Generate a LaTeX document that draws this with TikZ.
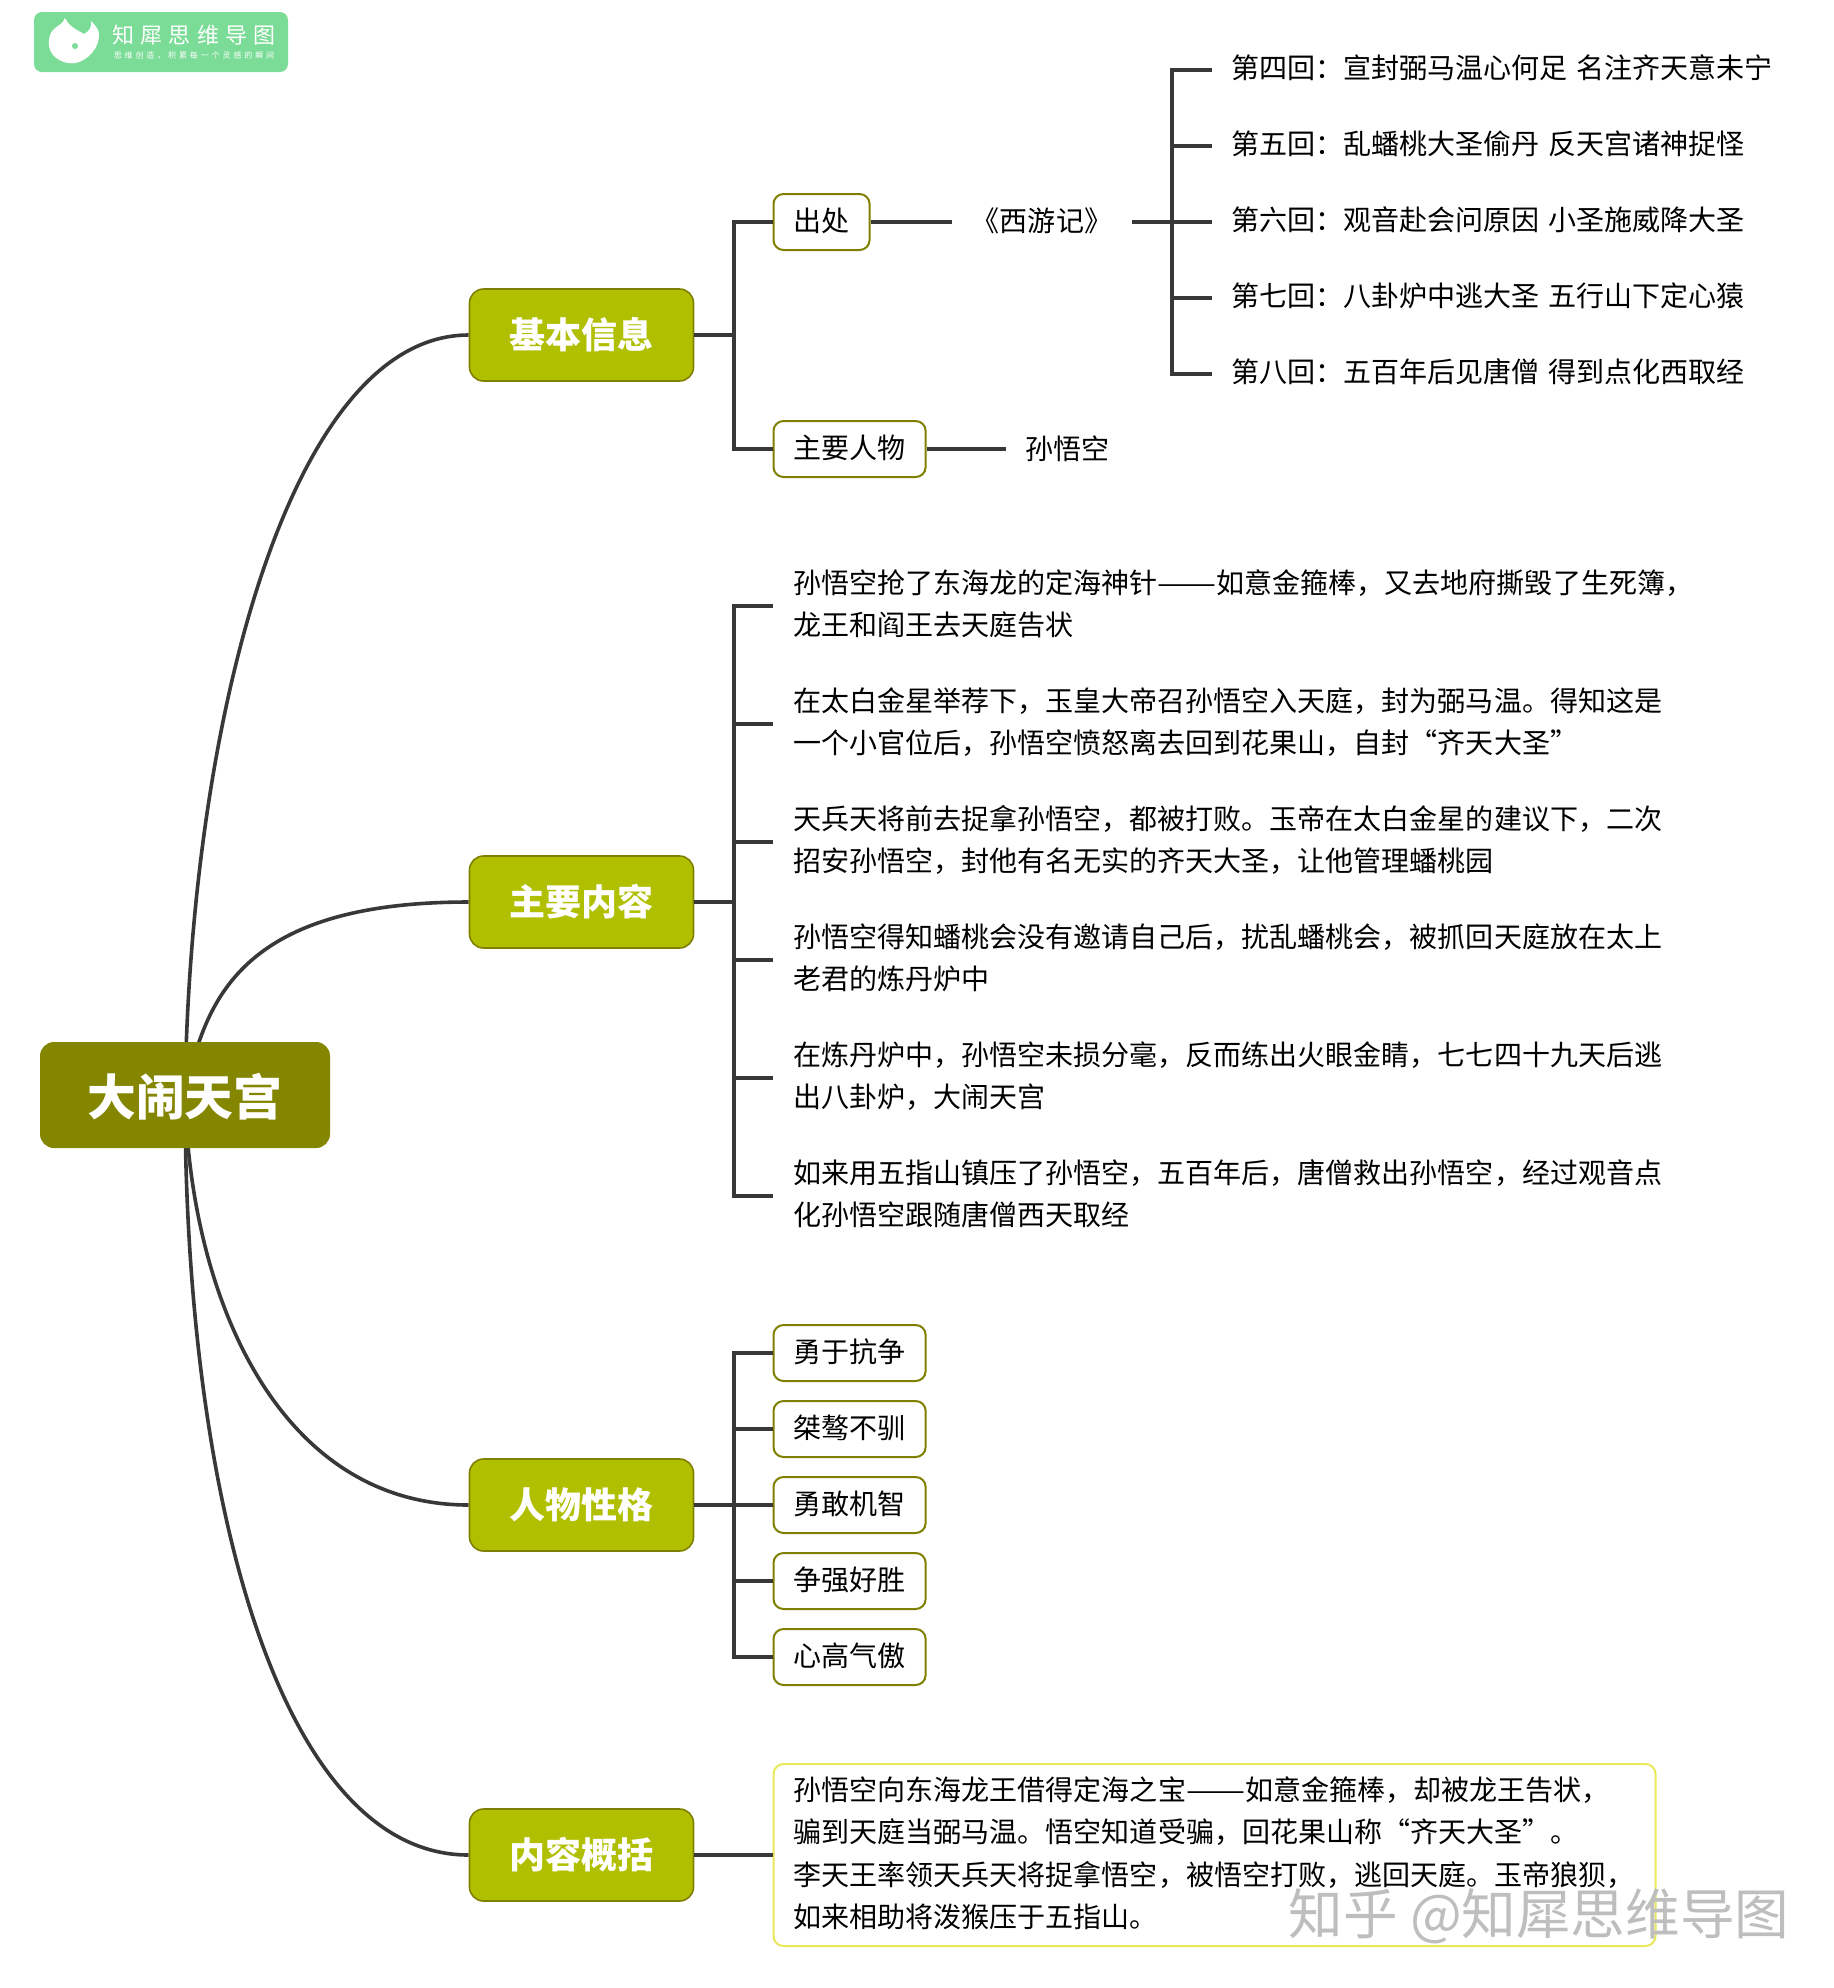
\documentclass[tikz,border=0pt]{standalone}
\usepackage{graphicx}
\usepackage{fontspec}
\setmainfont{Noto Sans CJK SC}
\usetikzlibrary{backgrounds}
\definecolor{leafOlive}{HTML}{808000}
\definecolor{rootOlive}{HTML}{848600}
\definecolor{branchGreen}{HTML}{B0BF00}
\definecolor{lineDark}{HTML}{383838}
\definecolor{logoGreen}{HTML}{7BDC97}
\definecolor{noteYellow}{HTML}{E8E85A}
\definecolor{markGray}{HTML}{BEBEBE}
\newcommand{\longdash}{\resizebox{29.5pt}{\height}{——}}
\newcommand{\midgap}{\hspace{4.5pt}}
\tikzset{
  rootbox/.style={fill=rootOlive, text=white, rounded corners=7pt, minimum width=145pt, minimum height=53pt, inner sep=0pt, text height=22pt, text depth=2pt, font=\fontsize{24.4}{28}\selectfont\bfseries},
  branchbox/.style={draw=leafOlive, line width=0.8pt, fill=branchGreen, text=white, rounded corners=7pt, minimum width=112pt, minimum height=46pt, inner sep=0pt, font=\fontsize{18}{22}\selectfont\bfseries},
  leafbox/.style={draw=leafOlive, line width=1pt, fill=white, rounded corners=5pt, minimum height=28pt, inner xsep=10pt, inner ysep=0pt, text height=11pt, text depth=2pt, font=\fontsize{14.02}{21}\selectfont},
  plaintext/.style={inner xsep=10pt, inner ysep=2pt, outer sep=0pt, align=left, anchor=west, text depth=3.2pt, font=\fontsize{14.02}{21}\selectfont},
  notebox/.style={draw=noteYellow, line width=1pt, fill=white, rounded corners=5pt, inner xsep=10pt, inner ysep=0pt, minimum height=91pt, text width=421pt, align=left, anchor=west, text depth=66.6pt, font=\fontsize{14.02}{21.2}\selectfont},
  limb/.style={draw=lineDark, line width=1.8pt},
  twig/.style={draw=lineDark, line width=2pt}
}
\begin{document}
\begin{tikzpicture}[x=0.5pt, y=-0.5pt]
    \useasboundingbox (0,0) rectangle (1834,1988);

    % Logo
    \node[fill=logoGreen, rounded corners=4pt, minimum width=127pt, minimum height=30pt, inner sep=0pt] (logoBar) at (161,42) {};
    \fill[white] (65,18) .. controls (63,24) and (58,25) .. (53,30) .. controls (47,37) and (47,50) .. (55,57) .. controls (62,63) and (70,64) .. (76,63) .. controls (88,60) and (100,48) .. (99,33) .. controls (98,28) and (94,24) .. (91,21) .. controls (92,28) and (89,31) .. (84,34) .. controls (78,30) and (70,28) .. (65,18);
    \fill[logoGreen] (75,46) circle (1.5pt);
    \node[text=white, inner sep=0pt, font=\fontsize{11}{12}\selectfont\addfontfeature{LetterSpace=29}] (logoName) at (194,35) {知犀思维导图};
    \node[text=white, inner sep=0pt, font=\fontsize{4}{5}\selectfont\addfontfeature{LetterSpace=36}] (logoTag) at (194,56) {思维创造，积累每一个灵感的瞬间};

    % Root and branches
    \node[rootbox] (root) at (185,1095) {大闹天宫};
    \node[branchbox] (info) at (581.5,335) {基本信息};
    \node[branchbox] (story) at (581.5,902) {主要内容};
    \node[branchbox] (trait) at (581.5,1505) {人物性格};
    \node[branchbox] (brief) at (581.5,1855) {内容概括};

    % Curves from the root
    \begin{pgfonlayer}{background}
      \draw[limb] (root.center) .. controls (190,720) and (290,335) .. (info.west);
      \draw[limb] (root.center) .. controls (205,1000) and (240,902) .. (story.west);
      \draw[limb] (root.center) .. controls (190,1300) and (280,1505) .. (trait.west);
      \draw[limb] (root.center) .. controls (185,1500) and (280,1855) .. (brief.west);
    \end{pgfonlayer}

    % Joints of the brackets
    \coordinate (infoJoint) at (734,335);
    \coordinate (storyJoint) at (734,902);
    \coordinate (traitJoint) at (734,1505);
    \coordinate (chapterJoint) at (1172,222);

    % Basic information
    \draw[twig] (info.east) -- (infoJoint);
    \node[leafbox, anchor=west] (source) at (772.5,222) {出处};
    \node[leafbox, anchor=west] (person) at (772.5,449) {主要人物};
    \node[inner sep=0pt, minimum width=90pt, minimum height=28pt, text height=11pt, text depth=2pt, font=\fontsize{14.02}{21}\selectfont] (book) at (1042,222) {《西游记》};
    \node[plaintext, inner xsep=9.5pt, text height=12.5pt, text depth=2.2pt] (hero) at (1006,449) {孙悟空};
    \draw[twig] (infoJoint) |- (source.west);
    \draw[twig] (infoJoint) |- (person.west);
    \draw[twig] (source.east) -- (book.west);
    \draw[twig] (person.east) -- (hero.west);
    \draw[twig] (book.east) -- (chapterJoint);

    % Chapters
    \foreach \name/\ypos/\words in {
      chapterA/70/{第四回：宣封弼马温心何足\midgap 名注齐天意未宁},
      chapterB/146/{第五回：乱蟠桃大圣偷丹\midgap 反天宫诸神捉怪},
      chapterC/222/{第六回：观音赴会问原因\midgap 小圣施威降大圣},
      chapterD/298/{第七回：八卦炉中逃大圣\midgap 五行山下定心猿},
      chapterE/374/{第八回：五百年后见唐僧\midgap 得到点化西取经}} {
      \node[plaintext, inner xsep=9.5pt] (\name) at (1212,\ypos) {\words};
      \draw[twig] (chapterJoint) |- (\name.west);
    }

    % Main content
    \foreach \name/\ypos/\words in {
      eventA/606/{孙悟空抢了东海龙的定海神针\longdash 如意金箍棒，又去地府撕毁了生死簿，\\龙王和阎王去天庭告状},
      eventB/724/{在太白金星举荐下，玉皇大帝召孙悟空入天庭，封为弼马温。得知这是\\一个小官位后，孙悟空愤怒离去回到花果山，自封“齐天大圣”},
      eventC/842/{天兵天将前去捉拿孙悟空，都被打败。玉帝在太白金星的建议下，二次\\招安孙悟空，封他有名无实的齐天大圣，让他管理蟠桃园},
      eventD/960/{孙悟空得知蟠桃会没有邀请自己后，扰乱蟠桃会，被抓回天庭放在太上\\老君的炼丹炉中},
      eventE/1078/{在炼丹炉中，孙悟空未损分毫，反而练出火眼金睛，七七四十九天后逃\\出八卦炉，大闹天宫},
      eventF/1196/{如来用五指山镇压了孙悟空，五百年后，唐僧救出孙悟空，经过观音点\\化孙悟空跟随唐僧西天取经}} {
      \node[plaintext] (\name) at (773,\ypos) {\words};
      \draw[twig] (storyJoint) |- (\name.west);
    }
    \draw[twig] (story.east) -- (storyJoint);

    % Character traits
    \foreach \name/\ypos/\words in {
      traitA/1353/勇于抗争,
      traitB/1429/桀骜不驯,
      traitC/1505/勇敢机智,
      traitD/1581/争强好胜,
      traitE/1657/心高气傲} {
      \node[leafbox, anchor=west] (\name) at (772.5,\ypos) {\words};
      \draw[twig] (traitJoint) |- (\name.west);
    }
    \draw[twig] (trait.east) -- (traitJoint);

    % Summary
    \node[notebox] (note) at (772.5,1855) {孙悟空向东海龙王借得定海之宝\longdash 如意金箍棒，却被龙王告状，\\骗到天庭当弼马温。悟空知道受骗，回花果山称“齐天大圣”。\\李天王率领天兵天将捉拿悟空，被悟空打败，逃回天庭。玉帝狼狈，\\如来相助将泼猴压于五指山。};
    \draw[twig] (brief.east) -- (note.west);

    % Watermark
    \node[text=markGray, inner sep=0pt, font=\fontsize{27.3}{30}\selectfont] (mark) at (1539,1916) {知乎 @知犀思维导图};
\end{tikzpicture}
\end{document}
